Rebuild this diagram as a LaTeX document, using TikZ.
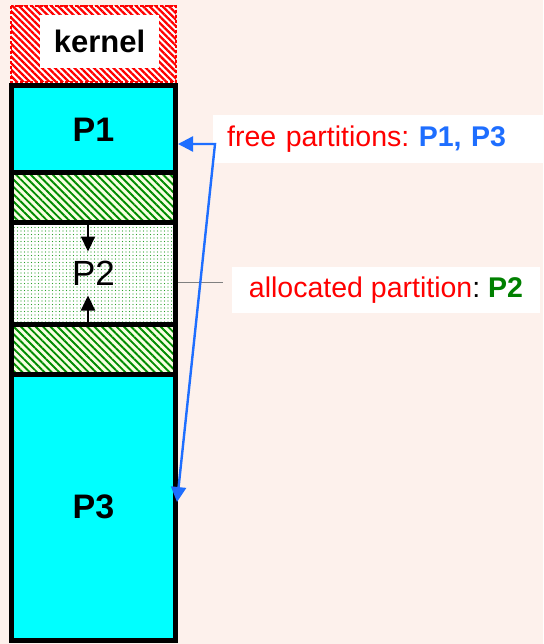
\documentclass[tikz,border=0pt]{standalone}
\usepackage{fontspec}
\setmainfont{Liberation Sans}
\frenchspacing
\usetikzlibrary{patterns.meta,arrows.meta,calc}
\definecolor{bgc}{RGB}{253,241,236}
\definecolor{cyanc}{RGB}{0,255,255}
\definecolor{blueA}{RGB}{30,110,255}
\definecolor{greenT}{RGB}{0,128,0}
\definecolor{hatchG}{RGB}{0,140,0}
\definecolor{hatchbg}{RGB}{248,255,225}
\definecolor{dotG}{RGB}{40,160,40}
\begin{document}
\begin{tikzpicture}[x=1pt,y=-1pt,
  seg/.style={rectangle, draw=black, line width=5pt, minimum width=164pt, inner sep=0pt},
  hatchseg/.style={seg, preaction={fill=hatchbg}, pattern={Lines[angle=-45,distance=5.2pt,line width=1.9pt]}, pattern color=hatchG},
  bigbold/.style={font=\fontsize{34}{36}\selectfont\bfseries},
  lbl/.style={fill=white, inner sep=0pt, font=\fontsize{28.5}{32}\selectfont},
  blarrow/.style={draw=blueA, line width=2.4pt, {Triangle[length=15pt,width=15pt]}-{Triangle[length=15pt,width=15pt]}},
  blkarrow/.style={draw=black, line width=2.2pt, -{Triangle[length=15pt,width=14pt]}}
]
\fill[bgc] (0,0) rectangle (543,644);
\useasboundingbox (0,0) rectangle (543,644);
% kernel
\fill[white] (11,6) rectangle (176,82);
\fill[pattern={Lines[angle=-45,distance=4.6pt,line width=2.3pt]}, pattern color=red] (11,6) rectangle (176,82);
\draw[red, line width=1.5pt, dash pattern=on 3pt off 2pt] (11,6) rectangle (176,82);
\node[fill=white, minimum width=119pt, minimum height=53pt, inner sep=0pt, font=\fontsize{31}{33}\selectfont\bfseries] (kernel) at (99.5,41.5) {kernel};
% column
\node[seg, fill=cyanc, minimum height=87pt, bigbold] (p1) at (93.5,129.5) {P1};
\node[hatchseg, minimum height=49pt] (h1) at (93.5,197.5) {};
\node[seg, preaction={fill=white}, pattern={Dots[radius=0.6pt,distance=3.5pt]}, pattern color=dotG, minimum height=102pt, font=\fontsize{35}{37}\selectfont] (p2) at (93.5,273) {P2};
\node[hatchseg, minimum height=50pt] (h2) at (93.5,349) {};
\node[seg, fill=cyanc, minimum height=266pt, bigbold] (p3) at (93.5,507) {P3};
% arrows in P2
\draw[blkarrow] ([xshift=-5.5pt]p2.north) -- ++(0,32);
\draw[blkarrow] ([xshift=-5.5pt]p2.south) -- ++(0,-31);
% labels
\node[lbl, anchor=north west, minimum height=48pt, text width=309pt, inner xsep=14pt, align=left] (free) at (213,115)
  {\color{red}free partitions: \textcolor{blueA}{\bfseries P1, P3}};
\node[lbl, minimum width=308pt, minimum height=46pt] (alloc) at (386,290)
  {\color{red}allocated partition\textcolor{black}{:} \textcolor{greenT}{\bfseries P2}};
% connector to allocated
\coordinate (aend) at (223,282);
\draw[gray, line width=1pt] ($(p2.east)+(0,9)$) -- (aend);
% blue arrow
\coordinate (corner) at (215,144);
\draw[blarrow] ($(p3.east)+(-1,-5)$) -- (corner) -- (p1.east |- corner);
\end{tikzpicture}
\end{document}
